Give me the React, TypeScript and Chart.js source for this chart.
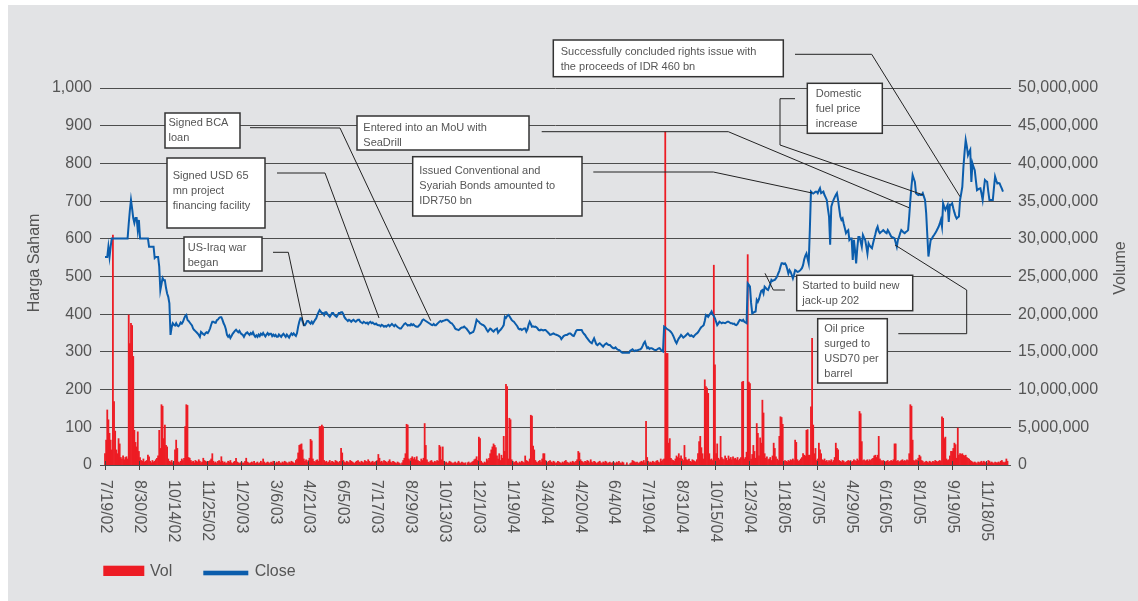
import React, { useEffect, useRef } from 'react';
import { Chart, registerables } from 'chart.js';

Chart.register(...registerables);

// ---------- DATA ----------
const tickLabels = ['7/19/02','8/30/02','10/14/02','11/25/02','1/20/03','3/6/03','4/21/03','6/5/03','7/17/03','8/29/03','10/13/03','12/1/03','1/19/04','3/4/04','4/20/04','6/4/04','7/19/04','8/31/04','10/15/04','12/3/04','1/18/05','3/7/05','4/29/05','6/16/05','8/1/05','9/19/05','11/18/05'];
const tickIdx = [0,30,60,90,120,150,180,210,240,270,300,330,360,390,420,450,480,510,540,570,600,630,660,690,720,750,780];

// Close price (IDR), trading-day order
const closeA = [
  552,552,552,579,552,579,601,601,601,601,601,601,601,601,601,601,601,601,601,601,601,640,675,703,680,655,642,655,655,623,
  650,601,601,601,601,601,601,601,601,579,579,579,579,579,549,552,552,552,526,464,480,496,490,490,470,455,446,429,345,365,
  376,372,370,376,370,368,372,378,375,380,388,395,398,385,382,378,374,370,362,358,355,352,349,345,340,353,350,347,345,350,
  352,350,355,362,372,380,380,378,377,384,386,390,392,392,385,376,370,360,345,340,344,337,342,348,352,356,359,355,352,356,
  350,347,345,340,346,350,352,348,345,350,347,352,345,340,344,340,346,342,348,345,350,345,341,346,350,345,348,348,342,346,
];
const closeB = [
  342,345,340,340,346,343,340,345,348,344,340,346,342,338,344,349,345,349,345,342,350,367,380,389,389,380,371,371,376,382,
  382,378,375,380,375,380,385,389,398,405,411,407,403,403,398,405,405,400,396,393,398,403,403,398,395,393,398,403,403,405,
  405,400,392,388,385,382,385,383,380,383,385,382,380,383,385,385,380,378,376,380,378,376,378,374,378,380,376,378,375,373,
  375,372,371,371,368,372,370,367,369,367,370,372,368,371,374,371,368,372,369,366,364,362,362,366,370,374,376,373,370,371,
  370,374,371,373,370,368,367,367,370,373,378,384,386,384,382,380,378,376,374,372,371,374,371,371,374,377,380,382,380,382,
];
const closeC = [
  383,384,385,385,383,380,377,376,372,368,362,360,359,358,360,363,365,365,367,364,362,358,354,349,350,352,353,360,372,385,
  382,380,376,374,372,371,368,364,358,354,358,362,360,356,354,358,360,362,351,355,358,362,366,371,393,390,395,398,395,390,
  385,382,380,376,372,368,362,360,361,358,360,362,362,354,360,372,380,374,367,368,366,367,365,362,358,357,359,358,357,358,
  358,355,352,349,345,346,348,349,347,346,345,344,342,340,334,338,342,344,345,345,347,349,349,346,343,342,348,355,358,358,
  358,358,358,352,348,345,340,336,332,328,325,323,330,336,328,320,318,321,323,320,317,314,318,321,323,320,318,318,315,312,
];
const closeD = [
  310,310,312,308,306,305,303,300,298,298,298,298,298,298,298,303,305,307,304,302,304,303,305,306,307,310,316,323,327,318,
  310,312,308,310,310,308,306,305,305,307,309,310,306,303,301,367,365,362,360,358,356,353,349,343,336,328,323,330,336,340,
  345,342,338,340,343,346,349,345,342,344,342,340,344,347,349,352,357,362,366,368,371,382,398,396,393,398,402,407,400,395,
  389,380,371,375,380,378,376,378,377,376,378,380,380,378,376,376,374,375,372,371,374,380,385,384,382,385,380,378,376,482,
  478,473,430,402,404,406,407,438,433,440,452,462,464,455,473,470,466,464,472,480,491,488,490,491,495,500,508,515,526,535,
];
const closeE = [
  535,533,535,530,520,508,517,512,504,495,505,517,515,512,513,515,518,522,530,545,555,561,548,535,623,725,722,720,722,725,
  725,721,728,734,721,723,725,716,710,703,680,659,584,685,695,703,710,716,721,703,680,659,650,654,640,628,615,620,623,597,
  601,601,544,597,570,535,575,605,605,592,579,610,603,597,580,561,588,582,578,575,588,601,612,625,632,620,615,618,620,623,
  620,617,615,623,618,612,606,604,603,601,590,579,597,605,615,623,620,617,615,618,620,623,660,703,740,769,760,751,721,718,
  716,718,716,716,721,712,703,668,610,553,575,597,600,606,610,615,620,626,632,640,650,632,694,685,677,684,690,645,690,690,
];
const closeF = [
  694,681,670,660,654,657,659,703,720,738,791,830,862,845,822,830,836,751,800,790,782,755,729,731,733,734,720,703,730,756,
  753,751,725,703,703,703,703,735,765,755,747,748,747,740,733,725,
];

// Volume (millions of shares)
const volA = [
  1.5,3.3,7.3,6.0,4.2,3.3,2.0,30.5,8.4,4.5,2.0,1.5,3.5,2.8,1.0,0.8,1.2,0.7,1.0,1.1,0.8,19.9,16.1,18.8,18.5,14.4,4.6,3.0,2.4,4.4,
  1.8,1.0,0.6,0.5,0.8,0.4,0.5,0.6,1.3,1.1,0.5,0.3,0.6,0.4,0.5,0.7,0.9,1.2,4.6,2.2,8.0,7.8,3.5,5.3,2.6,2.4,0.8,0.5,0.4,0.6,
  0.3,0.5,2.0,3.3,2.2,0.4,0.3,0.5,0.8,0.6,0.9,5.1,8.0,7.9,1.0,0.9,0.6,0.4,0.5,0.3,0.6,0.5,0.4,0.7,0.5,0.3,0.4,0.9,0.6,0.5,
  0.4,0.3,0.5,0.6,0.8,1.5,0.5,0.3,0.4,0.2,0.5,0.6,0.4,1.1,0.5,0.3,0.4,0.2,0.3,0.5,0.4,0.6,0.3,0.2,0.4,0.5,0.9,0.4,0.3,0.2,
  0.3,0.4,0.2,0.3,0.5,0.9,0.4,0.3,0.2,0.3,0.4,0.3,0.5,0.2,0.3,0.4,0.2,0.3,0.5,0.3,0.8,0.4,0.2,0.3,0.4,0.3,0.2,0.4,0.3,0.5,
];
const volB = [
  0.3,0.2,0.4,0.3,0.5,0.3,0.2,0.4,0.3,0.5,0.4,0.3,0.2,0.4,0.3,0.5,0.4,0.3,0.2,0.6,0.8,1.6,2.6,2.7,2.8,2.0,0.8,0.5,0.7,0.4,
  0.6,0.9,3.4,3.2,0.8,0.5,0.4,0.6,0.7,0.5,5.1,5.1,5.3,5.1,0.6,0.4,0.5,0.3,0.4,0.6,0.3,0.5,0.4,0.3,0.6,0.5,0.4,0.3,0.5,2.2,
  1.6,0.6,0.4,0.3,0.5,0.4,0.3,0.6,0.5,0.4,0.3,0.2,0.4,0.5,0.6,0.4,0.3,0.5,0.4,0.3,0.6,0.5,0.4,0.7,0.5,0.3,0.4,0.5,0.3,0.4,
  0.5,0.6,1.4,0.9,0.4,0.5,0.3,0.6,0.5,0.4,0.3,0.5,0.7,0.4,0.3,0.5,0.4,0.3,0.2,0.4,0.3,0.2,0.0,0.3,0.6,0.9,1.5,5.4,5.3,0.8,
  0.6,0.9,1.1,0.8,1.0,0.7,1.1,0.6,0.5,0.4,0.8,0.6,0.9,5.5,2.6,0.7,0.4,0.3,0.5,0.6,0.4,0.3,0.5,0.4,0.6,0.5,2.6,2.4,0.7,2.4,
];
const volC = [
  0.5,0.3,0.4,0.2,0.3,0.5,0.4,0.3,0.2,0.3,0.4,0.2,0.3,0.5,0.3,0.2,0.4,0.3,0.2,0.3,0.0,0.3,0.4,0.2,0.3,0.4,0.5,0.7,0.8,1.1,
  0.6,3.7,3.5,0.5,0.3,0.2,0.4,0.3,0.8,0.6,0.9,1.5,2.0,2.4,2.8,2.6,2.3,1.2,0.8,1.5,0.6,1.3,0.9,3.8,1.8,10.7,10.4,0.8,6.2,6.0,
  0.7,0.5,0.3,0.4,0.5,0.3,0.2,0.4,0.3,0.5,0.4,0.3,1.2,0.6,0.5,0.4,0.8,6.6,6.5,2.5,2.0,0.6,0.4,0.3,0.5,0.6,0.4,0.8,1.5,1.5,
  0.6,0.4,0.3,0.5,0.6,0.4,0.3,0.5,0.4,0.2,0.3,0.5,0.4,0.3,0.2,0.4,0.3,0.5,0.6,0.4,0.3,0.2,0.4,0.3,0.5,0.4,0.3,0.5,0.7,1.8,
  1.6,0.7,0.5,0.4,0.3,0.5,0.4,0.6,0.5,0.3,0.7,0.4,0.3,0.5,0.4,0.2,0.3,0.4,0.5,0.3,0.2,0.4,0.3,0.5,0.4,0.2,0.3,0.4,0.2,0.3,
];
const volD = [
  0.4,0.3,0.2,0.4,0.3,0.5,0.3,0.2,0.4,0.3,0.0,0.0,0.3,0.0,0.0,0.2,0.3,0.6,0.5,0.4,0.3,0.4,0.2,0.3,0.4,0.5,0.4,0.6,0.3,5.8,
  1.0,0.5,0.3,0.4,0.3,0.5,0.4,0.3,0.5,0.6,0.4,0.3,0.8,0.5,0.7,0.8,44.2,14.8,14.8,2.9,3.5,0.9,0.7,0.6,0.5,0.8,1.2,1.0,1.5,0.9,
  1.2,0.8,0.6,2.6,1.0,0.7,0.6,0.8,0.5,0.4,0.7,0.6,0.5,0.4,0.7,1.5,3.1,3.8,2.3,1.5,0.8,11.3,10.4,10.2,9.5,1.5,0.7,0.8,0.6,26.5,
  13.3,1.5,2.8,0.9,0.7,3.8,1.0,0.8,0.7,1.2,0.9,0.6,1.2,0.8,1.0,0.7,1.1,0.8,0.9,0.7,1.0,0.6,0.8,1.0,11.0,11.1,0.8,1.0,1.7,27.9,
  11.0,10.8,0.8,1.4,2.6,1.8,0.9,5.5,4.2,1.2,3.6,2.9,8.6,6.9,1.5,0.9,1.1,0.7,0.8,1.0,0.6,1.2,2.9,2.2,1.1,0.8,0.6,3.8,6.4,6.3,
];
const volE = [
  5.4,0.4,0.6,0.5,0.4,0.6,0.5,0.7,0.6,0.8,0.6,3.3,3.0,0.7,0.5,0.6,0.8,1.0,1.5,1.3,1.2,4.6,4.7,1.3,1.3,7.7,16.8,5.3,1.5,2.2,
  0.6,0.8,2.9,2.0,1.5,0.7,0.6,0.8,0.5,0.6,0.4,0.6,0.5,0.7,0.4,0.6,1.0,2.9,2.2,2.0,0.6,0.5,0.4,0.6,0.5,0.3,0.4,0.5,0.6,0.5,
  0.6,0.4,0.5,0.7,0.6,0.5,0.8,0.6,7.1,6.8,3.1,0.6,0.7,0.5,0.6,0.7,0.5,0.7,0.6,0.8,0.9,1.2,1.3,1.0,1.3,3.8,0.8,0.6,0.5,0.6,
  0.5,0.4,0.5,0.6,0.4,0.5,0.6,0.5,0.7,2.8,2.8,0.5,0.6,0.4,0.5,0.6,0.7,0.5,0.6,0.5,0.7,0.6,1.5,8.0,7.8,3.3,0.6,0.5,0.7,0.6,
  0.9,1.3,1.1,0.6,0.5,0.3,0.4,0.5,0.4,0.3,0.5,0.4,0.3,0.5,0.4,0.6,0.5,0.4,0.5,0.6,0.5,6.4,6.2,3.5,3.7,0.8,0.6,0.7,1.2,1.8,
];
const volF = [
  1.8,2.2,2.9,2.7,0.9,4.9,1.3,1.5,1.4,1.5,1.3,1.2,1.3,1.0,0.9,0.8,0.6,0.5,0.4,0.3,0.4,0.3,0.2,0.4,0.3,0.4,0.5,0.3,0.5,0.4,
  0.3,0.2,0.6,0.5,0.3,0.4,0.3,0.2,0.4,0.3,0.3,0.4,0.3,0.5,0.6,0.4,0.3,0.4,0.8,0.5,
];

const closeSeries = [...closeA, ...closeB, ...closeC, ...closeD, ...closeE, ...closeF];
const volSeries = [...volA, ...volB, ...volC, ...volD, ...volE, ...volF];

// ---------- LAYOUT / STYLE ----------
const OX = 8;
const OY = 5;
const FONT = "'Liberation Sans', Arial, Helvetica, sans-serif";
const RED = '#ed1c24';
const BLUE = '#0b5dac';
const TEXT = '#555555';

// annotation boxes (page px), pointer end in data units [index, price]
const notes = [
  { text: ['Signed BCA', 'loan'], box: [165, 113, 75, 35], pad: [3.5, 5.3], path: [[250, 127.7], [340, 128]], end: [288.4, 382.8] },
  { text: ['Signed USD 65', 'mn project', 'financing facility'], box: [167, 158, 98, 70], pad: [5.7, 12.7], path: [[277, 173], [325, 173]], end: [242.6, 390] },
  { text: ['US-Iraq war', 'began'], box: [184, 237, 78, 34], pad: [3.7, 5.7], path: [[273, 252.3], [288.3, 252.3]], end: [176.2, 368.7] },
  { text: ['Entered into an MoU with', 'SeaDrill'], box: [357, 116, 172, 34], pad: [6.3, 6.7], path: [[541.7, 131.7], [728.3, 131.7]], end: [711.8, 682.5] },
  { text: ['Issued Conventional and', 'Syariah Bonds amounted to', 'IDR750 bn'], box: [412.7, 156.7, 169.3, 59.3], pad: [6.6, 9.3], path: [[593.3, 172], [713.3, 172]], end: [626, 721.5] },
  { text: ['Successfully concluded rights issue with', 'the proceeds of IDR 460 bn'], box: [553.3, 40, 230, 36.7], pad: [7.4, 6.7], path: [[795, 54.3], [871.7, 54.3]], end: [757, 711.7] },
  { text: ['Domestic', 'fuel price', 'increase'], box: [807.3, 83.3, 75, 50], pad: [8.4, 5.7], path: [[795, 98.7], [780, 98.7], [780, 145]], end: [724.5, 716.2] },
  { text: ['Started to build new', 'jack-up 202'], box: [796.7, 275.3, 116, 35.4], pad: [5.6, 5.7], path: [[785, 290], [773.3, 290]], end: [584.3, 508.5] },
  { text: ['Oil price', 'surged to', 'USD70 per', 'barrel'], box: [817.7, 318.7, 69.6, 64.3], pad: [6.6, 5.6], path: [[898.3, 333.7], [966.7, 333.7], [966.7, 290]], end: [699.4, 583.6] },
];

const overlayPlugin = {
  id: 'overlay',
  afterDraw(chart: any) {
    const ctx = chart.ctx as CanvasRenderingContext2D;
    const xs = chart.scales.x;
    const ys = chart.scales.y;
    const area = chart.chartArea;
    ctx.save();

    // x tick marks
    ctx.strokeStyle = '#444';
    ctx.lineWidth = 1;
    tickIdx.forEach((t) => {
      const px = Math.round(xs.getPixelForValue(t)) + 0.5;
      ctx.beginPath();
      ctx.moveTo(px, area.bottom - 4);
      ctx.lineTo(px, area.bottom + 5);
      ctx.stroke();
    });

    // x labels, rotated clockwise
    ctx.fillStyle = TEXT;
    ctx.font = `16px ${FONT}`;
    ctx.textAlign = 'left';
    ctx.textBaseline = 'middle';
    tickIdx.forEach((t, k) => {
      const px = xs.getPixelForValue(t);
      ctx.save();
      ctx.translate(px + 0.5, 480 - OY);
      ctx.rotate(Math.PI / 2);
      ctx.fillText(tickLabels[k], 0, 0);
      ctx.restore();
    });

    // axis titles
    ctx.textAlign = 'center';
    ctx.textBaseline = 'middle';
    ctx.save();
    ctx.translate(35 - OX, 263 - OY);
    ctx.rotate(-Math.PI / 2);
    ctx.fillText('Harga Saham', 0, 0);
    ctx.restore();
    ctx.save();
    ctx.translate(1121 - OX, 268 - OY);
    ctx.rotate(-Math.PI / 2);
    ctx.fillText('Volume', 0, 0);
    ctx.restore();

    // legend
    ctx.fillStyle = RED;
    ctx.fillRect(103.3 - OX, 565.7 - OY, 41, 10.3);
    ctx.fillStyle = BLUE;
    ctx.fillRect(203.3 - OX, 570.7 - OY, 45, 4.6);
    ctx.fillStyle = TEXT;
    ctx.textAlign = 'left';
    ctx.textBaseline = 'middle';
    ctx.fillText('Vol', 150 - OX, 572 - OY);
    ctx.fillText('Close', 254.7 - OX, 572 - OY);

    // annotations: connectors
    ctx.strokeStyle = '#222';
    ctx.lineWidth = 1;
    notes.forEach((n) => {
      ctx.beginPath();
      n.path.forEach((p, j) => {
        const x = p[0] - OX;
        const y = p[1] - OY;
        if (j === 0) ctx.moveTo(x, y);
        else ctx.lineTo(x, y);
      });
      ctx.lineTo(xs.getPixelForValue(n.end[0]), ys.getPixelForValue(n.end[1]));
      ctx.stroke();
    });

    // annotations: boxes
    ctx.font = `11px ${FONT}`;
    ctx.textAlign = 'left';
    ctx.textBaseline = 'alphabetic';
    notes.forEach((n) => {
      const [bx, by, bw, bh] = n.box;
      ctx.fillStyle = '#ffffff';
      ctx.fillRect(bx - OX, by - OY, bw, bh);
      ctx.strokeStyle = '#333';
      ctx.lineWidth = 1.5;
      ctx.strokeRect(bx - OX, by - OY, bw, bh);
      ctx.fillStyle = TEXT;
      n.text.forEach((line, j) => {
        ctx.fillText(line, bx - OX + n.pad[0], by - OY + n.pad[1] + 8 + j * 15);
      });
    });

    ctx.restore();
  },
};

export default function App() {
  const ref = useRef<HTMLCanvasElement>(null);

  useEffect(() => {
    if (!ref.current) return;
    const chart = new Chart(ref.current, {
      type: 'bar',
      data: {
        datasets: [
          {
            type: 'line',
            label: 'Close',
            data: closeSeries.map((v, i) => ({ x: i, y: v })),
            borderColor: BLUE,
            borderWidth: 2,
            pointRadius: 0,
            tension: 0,
            yAxisID: 'y',
            order: 0,
          } as any,
          {
            type: 'bar',
            label: 'Vol',
            data: volSeries.map((v, i) => ({ x: i, y: v * 1000000 })),
            backgroundColor: RED,
            borderWidth: 0,
            barPercentage: 1,
            categoryPercentage: 1,
            yAxisID: 'y1',
            order: 1,
          } as any,
        ],
      },
      options: {
        responsive: false,
        animation: false,
        devicePixelRatio: 1,
        layout: { padding: { top: 83, left: 0, right: 0, bottom: 0 } },
        plugins: { legend: { display: false }, tooltip: { enabled: false } },
        scales: {
          x: {
            type: 'linear',
            min: -4.43,
            max: 802.1,
            offset: false,
            grid: { display: false },
            border: { display: false },
            ticks: { display: false },
            afterFit: (s: any) => { s.height = 136; },
          },
          y: {
            position: 'left',
            min: 0,
            max: 1000,
            ticks: {
              stepSize: 100,
              padding: 8,
              color: TEXT,
              font: { family: FONT, size: 16 },
              callback: (v: any) => Number(v).toLocaleString('en-US'),
            },
            grid: { color: '#4d4d4d', lineWidth: 1, drawTicks: false },
            border: { display: false },
            afterFit: (s: any) => { s.width = 92; },
          },
          y1: {
            position: 'right',
            min: 0,
            max: 50000000,
            ticks: {
              stepSize: 5000000,
              padding: 7,
              color: TEXT,
              font: { family: FONT, size: 16 },
              callback: (v: any) => Number(v).toLocaleString('en-US'),
            },
            grid: { display: false, drawTicks: false },
            border: { display: false },
            afterFit: (s: any) => { s.width = 127; },
          },
        },
      } as any,
      plugins: [overlayPlugin],
    });
    return () => chart.destroy();
  }, []);

  return (
    <div style={{ position: 'absolute', left: OX, top: OY, width: 1130, height: 596, background: '#e2e3e5' }}>
      <canvas ref={ref} width={1130} height={596} style={{ display: 'block', width: 1130, height: 596 }} />
    </div>
  );
}
